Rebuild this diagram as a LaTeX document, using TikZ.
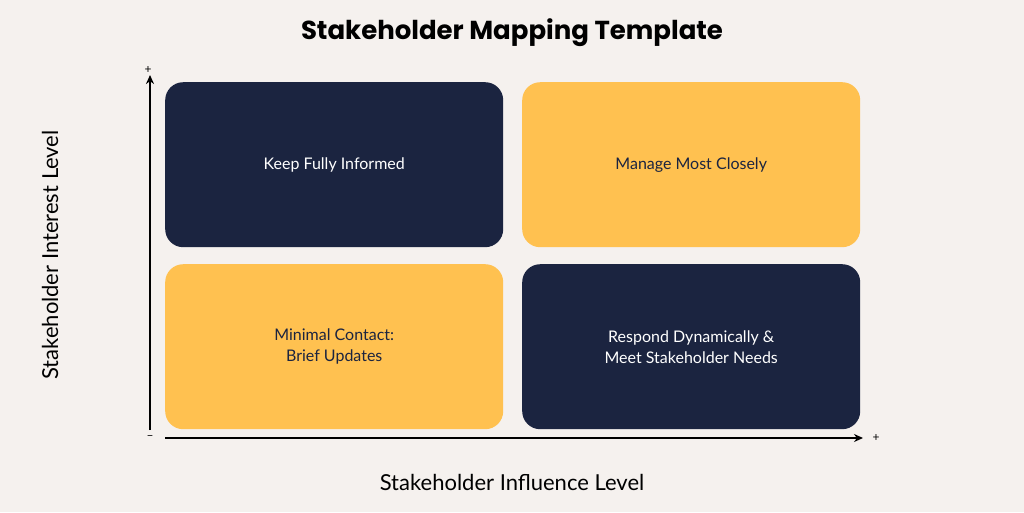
\documentclass[tikz,border=0pt]{standalone}
\usepackage{fontspec}
\setmainfont{Lato}
\newfontfamily\titlefont{Poppins}
\usetikzlibrary{arrows.meta}
\definecolor{bg}{HTML}{F5F1EE}
\definecolor{navy}{HTML}{1B2440}
\definecolor{gold}{HTML}{FFC150}
\begin{document}
\begin{tikzpicture}[x=1pt,y=-1pt,
  box/.style={rounded corners=18pt,minimum width=338pt,minimum height=165pt,anchor=north west,font=\fontsize{16}{21}\selectfont,align=center},
  dk/.style={box,fill=navy,text=white},
  yl/.style={box,fill=gold,text=navy},
  ax/.style={line width=2pt,-{Stealth[length=9pt,width=8pt]}}]
\fill[bg] (0,0) rectangle (1024,512);
\useasboundingbox (0,0) rectangle (1024,512);
\node[font=\titlefont\bfseries\fontsize{26}{30}\selectfont] (t) at (512,33) {Stakeholder Mapping Template};
\node[dk] (a) at (165,82) {Keep Fully Informed};
\node[yl] (b) at (522,82) {Manage Most Closely};
\node[yl] (c) at (165,264) {Minimal Contact:\\Brief Updates};
\node[dk] (d) at (522,264) {Respond Dynamically \&\\Meet Stakeholder Needs};
\coordinate (o) at (150,430);
\coordinate (yt) at (150,75);
\coordinate (xo) at (165,438);
\coordinate (xe) at (863,438);
\draw[ax] (o) -- (yt);
\draw[ax] (xo) -- (xe);
\node[font=\fontsize{12}{12}\selectfont] (p1) at (148,70) {+};
\node[font=\fontsize{12}{12}\selectfont] (m) at (150,438) {–};
\node[font=\fontsize{12}{12}\selectfont] (p2) at (876,438) {+};
\node[rotate=90,font=\fontsize{22}{26}\selectfont] (yl) at (50,255) {Stakeholder Interest Level};
\node[font=\fontsize{22}{26}\selectfont] (xl) at (512,482) {Stakeholder Influence Level};
\end{tikzpicture}
\end{document}
